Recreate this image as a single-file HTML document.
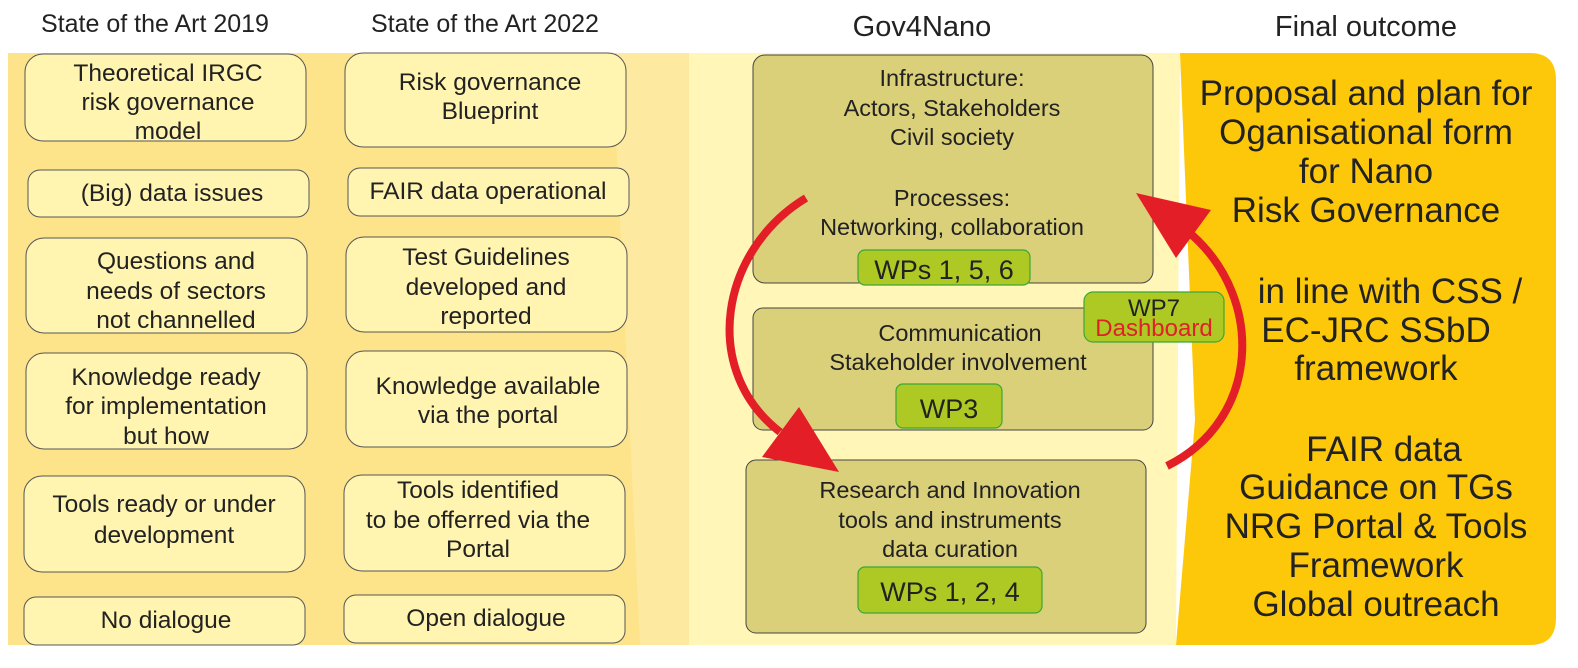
<!DOCTYPE html>
<html><head><meta charset="utf-8"><style>
html,body{margin:0;padding:0;background:#fff;}
svg{display:block;}
text{font-family:"Liberation Sans",sans-serif;fill:#222;text-anchor:middle;}
</style></head><body>
<svg width="1578" height="668" viewBox="0 0 1578 668" xmlns="http://www.w3.org/2000/svg">
<rect x="8" y="53" width="690" height="592" fill="#fde38a"/>
<polygon points="612,53 690,53 690,645 640,645" fill="#fee9a0"/>
<polygon points="689,53 1180,53 1176,645 689,645" fill="#fff6b8"/>
<path d="M1180,53 H1530 Q1556,53 1556,80 V618 Q1556,645 1530,645 H1176 L1195,420 Z" fill="#fdc80a"/>

<g font-size="25">
<text x="155" y="32">State of the Art 2019</text>
<text x="485" y="32">State of the Art 2022</text>
<text x="922" y="36" font-size="29">Gov4Nano</text>
<text x="1366" y="36" font-size="29">Final outcome</text>
</g>

<g fill="#fff5b0" stroke="#555" stroke-width="1">
<rect x="25" y="54" width="281" height="87" rx="18"/>
<rect x="28" y="170" width="281" height="47" rx="12"/>
<rect x="26" y="238" width="281" height="95" rx="18"/>
<rect x="26" y="353" width="281" height="96" rx="18"/>
<rect x="24" y="476" width="281" height="96" rx="18"/>
<rect x="24" y="597" width="281" height="48" rx="12"/>
<rect x="345" y="53" width="281" height="94" rx="18"/>
<rect x="348" y="168" width="281" height="48" rx="12"/>
<rect x="346" y="237" width="281" height="95" rx="18"/>
<rect x="346" y="351" width="281" height="96" rx="18"/>
<rect x="344" y="475" width="281" height="96" rx="18"/>
<rect x="344" y="595" width="281" height="48" rx="12"/>
</g>
<g font-size="24.5">
<text x="168" y="81">Theoretical IRGC</text>
<text x="168" y="110">risk governance</text>
<text x="168" y="139">model</text>
<text x="172" y="201">(Big) data issues</text>
<text x="176" y="269">Questions and</text>
<text x="176" y="299">needs of sectors</text>
<text x="176" y="328">not channelled</text>
<text x="166" y="385">Knowledge ready</text>
<text x="166" y="414">for implementation</text>
<text x="166" y="444">but how</text>
<text x="164" y="512">Tools ready or under</text>
<text x="164" y="543">development</text>
<text x="166" y="628">No dialogue</text>
<text x="490" y="90">Risk governance</text>
<text x="490" y="119">Blueprint</text>
<text x="488" y="199">FAIR data operational</text>
<text x="486" y="265">Test Guidelines</text>
<text x="486" y="295">developed and</text>
<text x="486" y="324">reported</text>
<text x="488" y="394">Knowledge available</text>
<text x="488" y="423">via the portal</text>
<text x="478" y="498">Tools identified</text>
<text x="478" y="528">to be offerred via the</text>
<text x="478" y="557">Portal</text>
<text x="486" y="626">Open dialogue</text>
</g>

<g fill="#dbd07a" stroke="#444" stroke-width="1">
<rect x="753" y="55" width="400" height="228" rx="12"/>
<rect x="753" y="308" width="400" height="122" rx="10"/>
<rect x="746" y="460" width="400" height="173" rx="10"/>
</g>
<g font-size="23.5">
<text x="952" y="86">Infrastructure:</text>
<text x="952" y="116">Actors, Stakeholders</text>
<text x="952" y="145">Civil society</text>
<text x="952" y="206">Processes:</text>
<text x="952" y="235">Networking, collaboration</text>
<text x="960" y="341">Communication</text>
<text x="958" y="370">Stakeholder involvement</text>
<text x="950" y="498">Research and Innovation</text>
<text x="950" y="528">tools and instruments</text>
<text x="950" y="557">data curation</text>
</g>
<g fill="#aec923" stroke="#3aa73a" stroke-width="1.2">
<rect x="858" y="250" width="172" height="35" rx="7"/>
<rect x="896" y="384" width="106" height="44" rx="7"/>
<rect x="858" y="567" width="184" height="46" rx="7"/>
<rect x="1084" y="292" width="140" height="50" rx="9"/>
</g>
<g font-size="27">
<text x="944" y="279">WPs 1, 5, 6</text>
<text x="949" y="418">WP3</text>
<text x="950" y="601">WPs 1, 2, 4</text>
<text x="1154" y="316" font-size="24">WP7</text>
<text x="1154" y="336" font-size="24" style="fill:#e0202a">Dashboard</text>
</g>

<path d="M806,198 C720,250 700,370 780,432" fill="none" stroke="#e31e26" stroke-width="8"/>
<polygon points="839,472 762,457 799,407" fill="#e31e26"/>
<path d="M1167,466 C1260,420 1265,300 1192,235" fill="none" stroke="#e31e26" stroke-width="8"/>
<polygon points="1136,193 1176,258 1211,210" fill="#e31e26"/>

<g font-size="35">
<text x="1366" y="105">Proposal and plan for</text>
<text x="1366" y="144">Oganisational form</text>
<text x="1366" y="183">for Nano</text>
<text x="1366" y="222">Risk Governance</text>
<text x="1390" y="303">in line with CSS /</text>
<text x="1376" y="342">EC-JRC SSbD</text>
<text x="1376" y="380">framework</text>
<text x="1384" y="461">FAIR data</text>
<text x="1376" y="499">Guidance on TGs</text>
<text x="1376" y="538">NRG Portal &amp; Tools</text>
<text x="1376" y="577">Framework</text>
<text x="1376" y="616">Global outreach</text>
</g>
</svg>
</body></html>
